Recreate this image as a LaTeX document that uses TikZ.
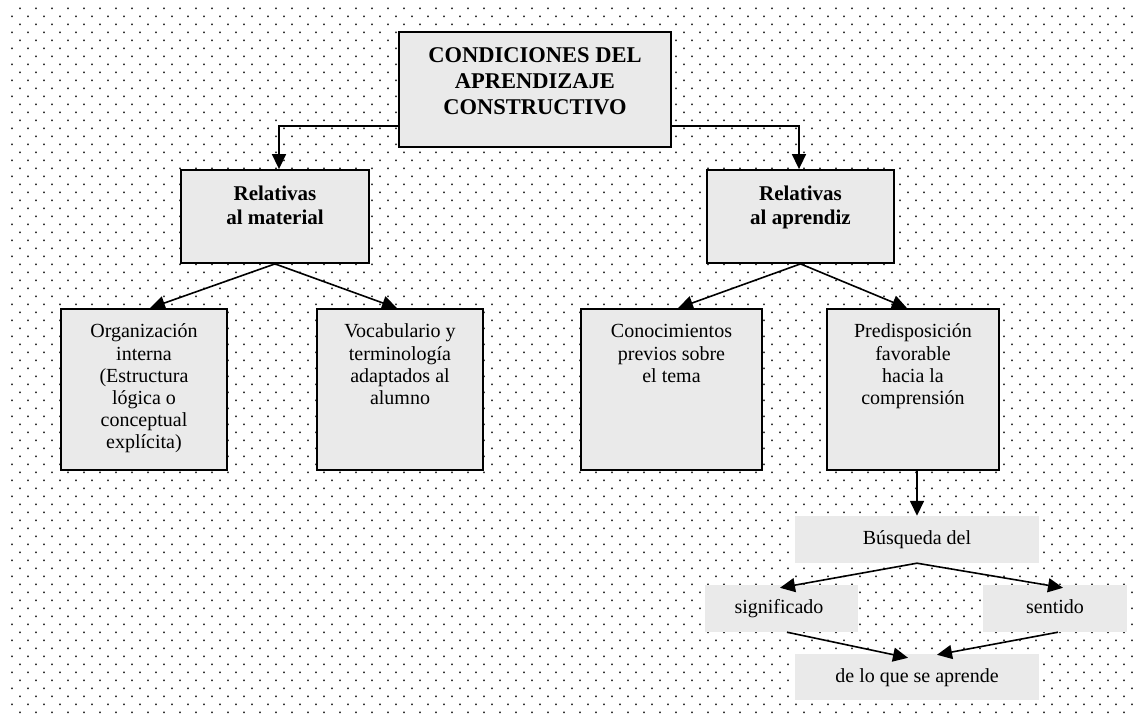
\documentclass[tikz,border=0pt]{standalone}
\usepackage{fontspec}
\setmainfont{Liberation Serif}
\usetikzlibrary{arrows.meta,calc}
\definecolor{boxfill}{RGB}{234,234,234}
\definecolor{dotc}{RGB}{55,55,55}
\newcommand{\tbox}[1]{\parbox[t]{300pt}{\centering #1}}
\begin{document}
\begin{tikzpicture}[x=1pt,y=-1pt,
  box/.style={draw=black, line width=1.8pt, fill=boxfill, inner sep=0pt},
  plain/.style={fill=boxfill, inner sep=0pt},
  txt/.style={inner sep=0pt, anchor=base, font=\fontsize{20}{22.2}\selectfont},
  btxt/.style={inner sep=0pt, anchor=base, font=\fontsize{21}{24}\selectfont\bfseries},
  ttxt/.style={inner sep=0pt, anchor=base, font=\fontsize{22.5}{26}\selectfont\bfseries},
  arr/.style={line width=1.6pt, -{Triangle[length=15pt,width=14pt]}}]
\useasboundingbox (0,0) rectangle (1136,719);
\fill[white] (0,0) rectangle (1136,719);
% dotted background
\fill[dotc] \foreach \j in {0,...,44} { \foreach \i in {0,...,69} { ({19.2+16*\i},{9.2+16*\j}) rectangle +(1.6,-1.6) } };
\fill[dotc] \foreach \j in {0,...,43} { \foreach \i in {0,...,70} { ({11.2+16*\i},{17.2+16*\j}) rectangle +(1.6,-1.6) } };
% title
\node[box, minimum width=272pt, minimum height=115pt] (title) at (535,89.5) {};
\node[ttxt] (titlet) at (535,63) {\tbox{CONDICIONES DEL\\APRENDIZAJE\\CONSTRUCTIVO}};
% level 1
\node[box, minimum width=188pt, minimum height=93pt] (mat) at (275,216.5) {};
\node[btxt] (matt) at (275,201) {\tbox{Relativas\\al material}};
\node[box, minimum width=187pt, minimum height=93pt] (apr) at (800.5,216.5) {};
\node[btxt] (aprt) at (800.5,201) {\tbox{Relativas\\al aprendiz}};
% level 2
\node[box, minimum width=166pt, minimum height=161pt] (org) at (144,389.5) {};
\node[txt] (orgt) at (144,338) {\tbox{Organización\\interna\\(Estructura\\lógica o\\conceptual\\explícita)}};
\node[box, minimum width=166pt, minimum height=161pt] (voc) at (400,389.5) {};
\node[txt] (voct) at (400,338) {\tbox{Vocabulario y\\terminología\\adaptados al\\alumno}};
\node[box, minimum width=181pt, minimum height=161pt] (con) at (671.5,389.5) {};
\node[txt] (cont) at (671.5,338) {\tbox{Conocimientos\\previos sobre\\el tema}};
\node[box, minimum width=172pt, minimum height=161pt] (pre) at (913,389.5) {};
\node[txt] (pret) at (913,338) {\tbox{Predisposición\\favorable\\hacia la\\comprensión}};
% bottom chain
\node[plain, minimum width=244pt, minimum height=47pt] (bus) at (917,539.5) {};
\node[txt] (bust) at (917,544) {Búsqueda del};
\node[plain, minimum width=153pt, minimum height=47pt] (sig) at (781.5,608.5) {};
\node[txt] (sigt) at (779,613) {significado};
\node[plain, minimum width=144pt, minimum height=47pt] (sen) at (1055,608.5) {};
\node[txt] (sent) at (1055,613) {sentido};
\node[plain, minimum width=244pt, minimum height=46pt] (del) at (917,677) {};
\node[txt] (delt) at (917,682) {de lo que se aprende};
% connectors
\draw[arr] ($(title.south west)+(0,-22)$) -| ([xshift=4pt]mat.north);
\draw[arr] ($(title.south east)+(0,-22)$) -| ([xshift=-1.5pt]apr.north);
\draw[arr] (mat.south) -- ([xshift=6pt]org.north);
\draw[arr] (mat.south) -- ([xshift=-3pt]voc.north);
\draw[arr] (apr.south) -- ([xshift=6.5pt]con.north);
\draw[arr] (apr.south) -- ([xshift=-6pt]pre.north);
\draw[arr] (bus.north |- pre.south) -- (bus.north);
\draw[arr] (bus.south) -- ($(sig.north)+(-1.5,3)$);
\draw[arr] (bus.south) -- ($(sen.north)+(8,3)$);
\draw[arr] ($(sig.south)+(5.5,0)$) -- ($(del.north)+(-9,4)$);
\draw[arr] ($(sen.south)+(3,0)$) -- ($(del.north)+(20,1)$);
\end{tikzpicture}
\end{document}
